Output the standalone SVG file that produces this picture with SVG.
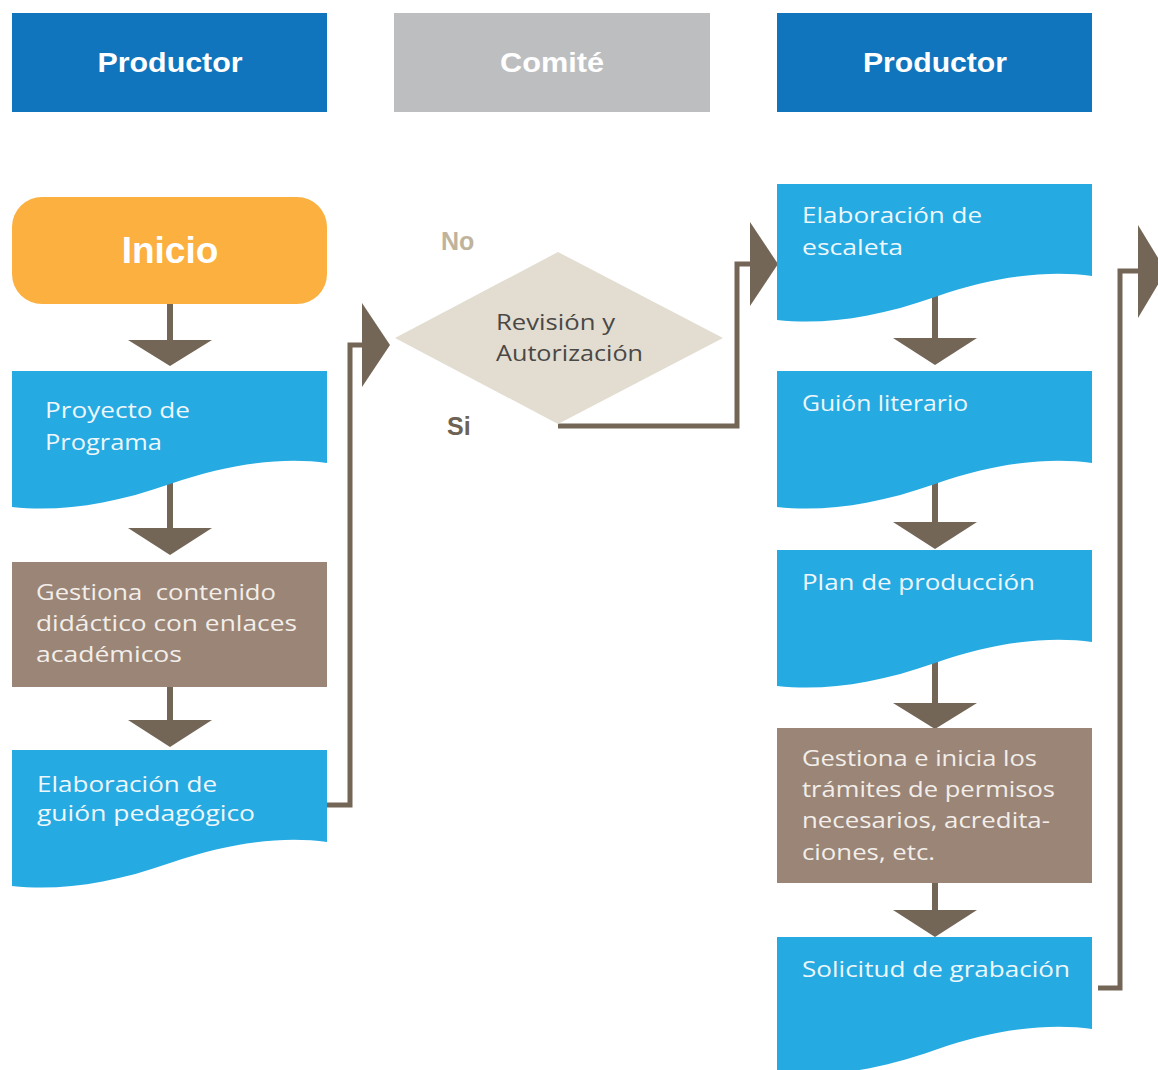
<svg xmlns="http://www.w3.org/2000/svg" xmlns:xlink="http://www.w3.org/1999/xlink" width="1158" height="1070" viewBox="0 0 1158 1070">
<style>
.hdr{font-family:"Liberation Sans",Arial,sans-serif;font-weight:bold;font-size:28px;fill:#ffffff;text-anchor:middle}
.t{font-family:"Open Sans","DejaVu Sans",sans-serif;font-size:22px;fill:#eef7fc}
.tb{font-family:"Open Sans","DejaVu Sans",sans-serif;font-size:22px;fill:#f3eee9;white-space:pre}
.td{font-family:"Open Sans","DejaVu Sans",sans-serif;font-size:22px;fill:#4a4846}
.doc{fill:#25aae1}
.proc{fill:#9a8577}
.shaft{stroke:#736657;stroke-width:6;fill:none}
.elbow{stroke:#736657;stroke-width:5;fill:none}
.head{fill:#736657}
</style>
<defs>
<path id="docShape" d="M0,0 H315 V92 C278,87 228,89 158,113 C98,134 48,141 0,136 Z"/>
</defs>
<rect width="1158" height="1070" fill="#ffffff"/>

<g id="hdr-productor-1">
<rect x="12" y="13" width="315" height="99" fill="#1075bd"/>
<text class="hdr" x="170" y="72" textLength="145" lengthAdjust="spacingAndGlyphs">Productor</text>
</g>
<g id="hdr-comite">
<rect x="394" y="13" width="316" height="99" fill="#bdbec0"/>
<text class="hdr" x="552" y="72" textLength="104" lengthAdjust="spacingAndGlyphs">Comité</text>
</g>
<g id="hdr-productor-2">
<rect x="777" y="13" width="315" height="99" fill="#1075bd"/>
<text class="hdr" x="935" y="72" textLength="144" lengthAdjust="spacingAndGlyphs">Productor</text>
</g>

<g id="connectors">
<line class="shaft" x1="170" y1="304" x2="170" y2="342"/>
<polygon class="head" points="128,340 212,340 170,366"/>
<line class="shaft" x1="170" y1="480" x2="170" y2="530"/>
<polygon class="head" points="128,528 212,528 170,555"/>
<line class="shaft" x1="170" y1="687" x2="170" y2="722"/>
<polygon class="head" points="128,720 212,720 170,747"/>
<polyline class="elbow" points="327,805 350,805 350,345 365,345"/>
<polygon class="head" points="362,303 362,387 390,345"/>
<polyline class="elbow" points="558,426 737,426 737,264 752,264"/>
<polygon class="head" points="750,222 750,306 778,264"/>
<line class="shaft" x1="935" y1="295" x2="935" y2="340"/>
<polygon class="head" points="893,338 977,338 935,365"/>
<line class="shaft" x1="935" y1="480" x2="935" y2="524"/>
<polygon class="head" points="893,522 977,522 935,549"/>
<line class="shaft" x1="935" y1="660" x2="935" y2="705"/>
<polygon class="head" points="893,703 977,703 935,729"/>
<line class="shaft" x1="935" y1="883" x2="935" y2="912"/>
<polygon class="head" points="893,910 977,910 935,937"/>
<polyline class="elbow" points="1098,988 1120,988 1120,271 1140,271"/>
<polygon class="head" points="1138,225 1138,318 1166,271"/>
</g>

<g id="inicio">
<rect x="12" y="197" width="315" height="107" rx="30" ry="30" fill="#fbb040"/>
<text x="170" y="263" font-family="Liberation Sans,Arial,sans-serif" font-weight="bold" font-size="37" fill="#ffffff" text-anchor="middle">Inicio</text>
</g>

<g id="proyecto">
<use xlink:href="#docShape" href="#docShape" class="doc" x="12" y="371"/>
<text class="t" x="45" y="418" textLength="145" lengthAdjust="spacingAndGlyphs">Proyecto de</text>
<text class="t" x="45" y="450" textLength="117" lengthAdjust="spacingAndGlyphs">Programa</text>
</g>

<g id="gestiona-contenido">
<rect class="proc" x="12" y="562" width="315" height="125"/>
<text class="tb" x="36" y="600" textLength="240" lengthAdjust="spacingAndGlyphs" xml:space="preserve">Gestiona  contenido</text>
<text class="tb" x="36" y="631" textLength="261" lengthAdjust="spacingAndGlyphs">didáctico con enlaces</text>
<text class="tb" x="36" y="662" textLength="146" lengthAdjust="spacingAndGlyphs">académicos</text>
</g>

<g id="guion-pedagogico">
<use xlink:href="#docShape" href="#docShape" class="doc" x="12" y="750"/>
<text class="t" x="37" y="792" textLength="180" lengthAdjust="spacingAndGlyphs">Elaboración de</text>
<text class="t" x="37" y="821" textLength="218" lengthAdjust="spacingAndGlyphs">guión pedagógico</text>
</g>

<g id="revision">
<polygon points="395,338 558,252 723,338 558,424" fill="#e2ddd0"/>
<text class="td" x="496" y="330" textLength="119" lengthAdjust="spacingAndGlyphs">Revisión y</text>
<text class="td" x="496" y="361" textLength="147" lengthAdjust="spacingAndGlyphs">Autorización</text>
</g>
<g id="label-no">
<text x="441" y="250" font-family="Liberation Sans,Arial,sans-serif" font-weight="bold" font-size="25" fill="#bfb39c">No</text>
</g>
<g id="label-si">
<text x="447" y="435" font-family="Liberation Sans,Arial,sans-serif" font-weight="bold" font-size="25" fill="#6e6253">Si</text>
</g>

<g id="escaleta">
<use xlink:href="#docShape" href="#docShape" class="doc" x="777" y="184"/>
<text class="t" x="802" y="223" textLength="180" lengthAdjust="spacingAndGlyphs">Elaboración de</text>
<text class="t" x="802" y="255" textLength="101" lengthAdjust="spacingAndGlyphs">escaleta</text>
</g>

<g id="guion-literario">
<use xlink:href="#docShape" href="#docShape" class="doc" x="777" y="371"/>
<text class="t" x="802" y="411" textLength="166" lengthAdjust="spacingAndGlyphs">Guión literario</text>
</g>

<g id="plan-produccion">
<use xlink:href="#docShape" href="#docShape" class="doc" x="777" y="550"/>
<text class="t" x="802" y="590" textLength="233" lengthAdjust="spacingAndGlyphs">Plan de producción</text>
</g>

<g id="gestiona-tramites">
<rect class="proc" x="777" y="728" width="315" height="155"/>
<text class="tb" x="802" y="766" textLength="235" lengthAdjust="spacingAndGlyphs">Gestiona e inicia los</text>
<text class="tb" x="802" y="797" textLength="253" lengthAdjust="spacingAndGlyphs">trámites de permisos</text>
<text class="tb" x="802" y="828" textLength="248" lengthAdjust="spacingAndGlyphs">necesarios, acredita-</text>
<text class="tb" x="802" y="860" textLength="133" lengthAdjust="spacingAndGlyphs">ciones, etc.</text>
</g>

<g id="solicitud">
<use xlink:href="#docShape" href="#docShape" class="doc" x="777" y="937"/>
<text class="t" x="802" y="977" textLength="268" lengthAdjust="spacingAndGlyphs">Solicitud de grabación</text>
</g>
</svg>
